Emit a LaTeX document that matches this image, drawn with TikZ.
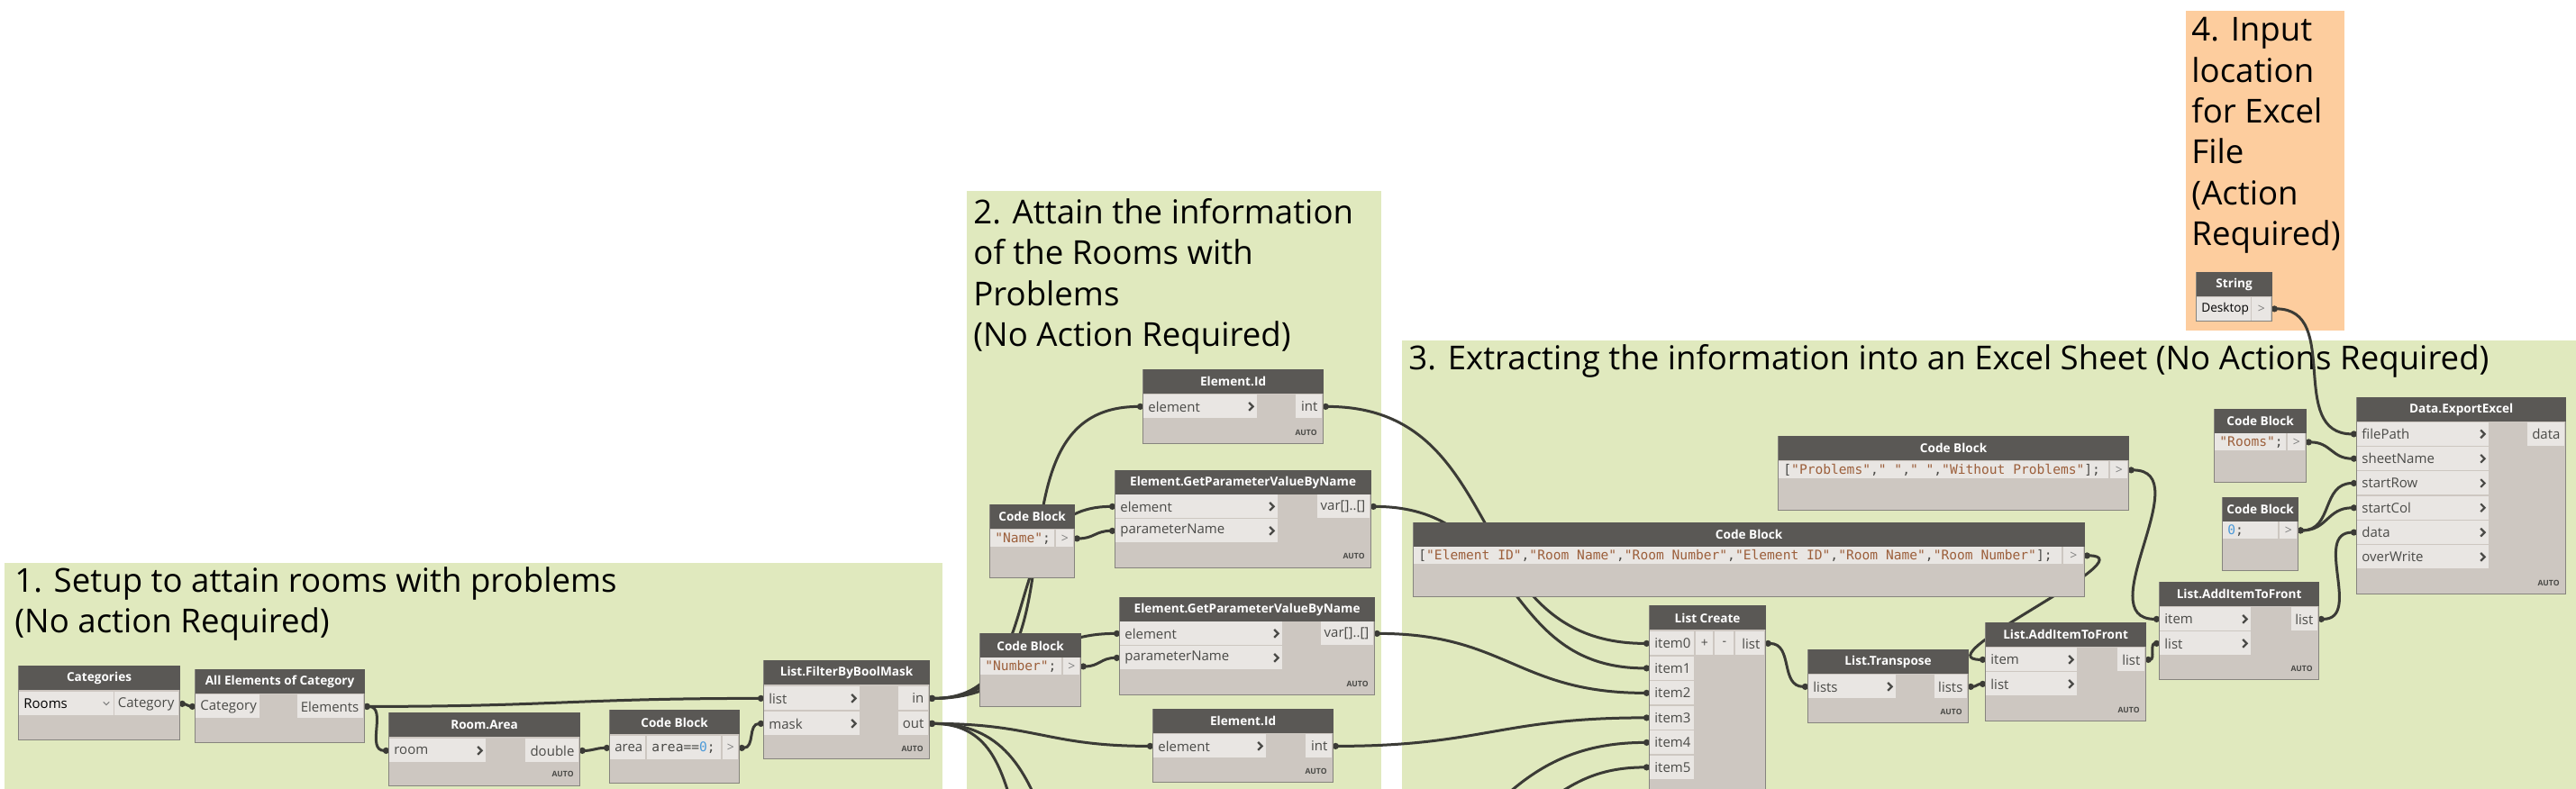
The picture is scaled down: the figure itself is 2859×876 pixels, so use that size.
\documentclass[tikz,border=0pt]{standalone}
\usepackage{fontspec}
\setmainfont{Open Sans}
\setmonofont{DejaVu Sans Mono}
\usepackage{tikz}
\usetikzlibrary{arrows.meta,positioning,calc}
\definecolor{grpgreen}{HTML}{E0E9BE}
\definecolor{grporange}{HTML}{FDCD9E}
\definecolor{headc}{HTML}{5A5855}
\definecolor{bodyc}{HTML}{CDC7C1}
\definecolor{cellc}{HTML}{E9E6E3}
\definecolor{edgec}{HTML}{86847E}
\definecolor{wirec}{HTML}{3B3B36}
\definecolor{portc}{HTML}{4A4A47}
\definecolor{strc}{HTML}{9C5F3B}
\definecolor{numc}{HTML}{4C9AD8}
\pgfdeclarelayer{bg}
\pgfdeclarelayer{wires}
\pgfsetlayers{bg,wires,main}

\tikzset{
  dbody/.style={anchor=north west,rectangle,fill=bodyc,draw=edgec,line width=0.6pt,inner sep=0},
  dhead/.style={anchor=north,fill=headc,text=white,inner sep=0,minimum height=13.5pt,
    font=\bfseries\fontsize{6.8}{8}\selectfont},
  cellbox/.style={anchor=north west,fill=cellc,inner sep=0,minimum height=13pt,
    font=\fontsize{7}{9}\selectfont,text=portc},
  short/.style={minimum height=9.5pt},
  ptext/.style={inner xsep=2.5pt,inner ysep=0,font=\fontsize{7.5}{9}\selectfont,text=portc},
  chev/.style={draw=portc,line width=1.1pt},
  incell/.style={cellbox,path picture={\draw[chev] ([xshift=-4.6pt,yshift=2.2pt]path picture bounding box.east)
    -- ++(2.2pt,-2.2pt) -- ++(-2.2pt,-2.2pt);}},
  autotag/.style={anchor=east,inner sep=0,text=portc,font=\bfseries\fontsize{4.3}{5}\selectfont},
  gtitle/.style={anchor=north west,inner sep=0,align=left,font=\fontsize{18.3}{22.7}\selectfont},
  wire/.style={draw=wirec,line width=1.5pt,out=0,in=180,looseness=1.2,{Circle[length=3.5pt]}-{Circle[length=3.5pt]}}
}

% body and header: name, x, y, width, height, title
\newcommand{\dyn}[6]{%
  \node[dbody,minimum width=#4*0.5pt,minimum height=#5*0.5pt] (#1) at (#2,#3) {};
  \node[dhead,minimum width=#4*0.5pt] (#1-h) at (#1.north) {#6};}
% cells: [options] name, x, y, width, text
\newcommand{\pcell}[6][]{%
  \node[cellbox,minimum width=#5*0.5pt,#1] (#2) at (#3,#4) {};
  \node[ptext,anchor=west] (#2-t) at (#2.west) {#6};}
\newcommand{\inp}[6][]{%
  \node[incell,minimum width=#5*0.5pt,#1] (#2) at (#3,#4) {};
  \node[ptext,anchor=west] (#2-t) at (#2.west) {#6};}
\newcommand{\outp}[6][]{%
  \node[cellbox,minimum width=#5*0.5pt,#1] (#2) at (#3,#4) {};
  \node[ptext,anchor=east] (#2-t) at (#2.east) {#6};}
\newcommand{\gtcell}[5][]{%
  \node[cellbox,minimum width=#5*0.5pt,#1,text=gray] (#2) at (#3,#4) {>};}
\newcommand{\qs}[1]{\textcolor{strc}{"#1"}}
\newcommand{\cfont}{\ttfamily\fontsize{7.3}{9}\selectfont\color{portc}}

\begin{document}
\begin{tikzpicture}[x=0.5pt,y=-0.5pt]
\useasboundingbox (0,0) rectangle (2859,876);
\clip (0,0) rectangle (2859,876);

\begin{pgfonlayer}{bg}
  \fill[white] (0,0) rectangle (2859,876);
  \fill[grpgreen] (5,625) rectangle (1046,876);
  \fill[grpgreen] (1073,212) rectangle (1533,876);
  \fill[grpgreen] (1556,378) rectangle (2859,876);
  \fill[grporange] (2426,12) rectangle (2602,367);
  \node[gtitle] (t1) at (16,629) {1. Setup to attain rooms with problems\\(No action Required)};
  \node[gtitle] (t2) at (1080,220) {2. Attain the information\\of the Rooms with\\Problems\\(No Action Required)};
  \node[gtitle] (t3) at (1563,382) {3. Extracting the information into an Excel Sheet (No Actions Required)};
  \node[gtitle] (t4) at (2432,19) {4. Input\\location\\for Excel\\File\\(Action\\Required)};
\end{pgfonlayer}

% 1. rooms with problems
\dyn{cat}{20}{739}{179}{82}{Categories}
\pcell{cat-rooms}{21}{768}{105}{\color{black}Rooms}
\outp{cat-out}{127}{768}{71}{Category}
\draw[gray,line width=0.5pt] ($(cat-rooms.east)+(-6pt,1pt)$) -- ++(1.6pt,-1.6pt) -- ++(1.6pt,1.6pt);

\dyn{aec}{216}{743}{188}{81}{All Elements of Category}
\pcell{aec-in}{217}{771}{71}{Category}
\outp{aec-out}{330}{771}{73}{Elements}

\dyn{area}{431}{791}{212}{81}{Room.Area}
\inp{area-room}{432}{820}{107}{room}
\outp{area-out}{583}{820}{59}{double}
\node[autotag] (area-a) at (637,859) {AUTO};

\dyn{cbA}{676}{788}{144}{81}{Code Block}
\pcell{cbA-in}{677}{817}{39}{area}
\pcell{cbA-code}{718}{817}{82}{\cfont area==\textcolor{numc}{0};}
\gtcell{cbA-out}{802}{817}{17}

\dyn{fbm}{847}{733}{184}{109}{List.FilterByBoolMask}
\inp{fbm-list}{848}{762}{106}{list}
\inp{fbm-mask}{848}{790}{106}{mask}
\outp{fbm-in}{997}{762}{33}{in}
\outp{fbm-out}{997}{790}{33}{out}
\node[autotag] (fbm-a) at (1025,831) {AUTO};

% 2. room information
\dyn{eid1}{1268}{410}{200}{82}{Element.Id}
\inp{eid1-el}{1269}{438}{126}{element}
\outp{eid1-out}{1438}{438}{29}{int}
\node[autotag] (eid1-a) at (1462,480) {AUTO};

\dyn{gp1}{1237}{522}{284}{108}{Element.GetParameterValueByName}
\inp{gp1-el}{1238}{549}{180}{element}
\inp{gp1-pn}{1238}{576}{180}{parameterName}
\outp{gp1-out}{1462}{549}{58}{var[]..[]}
\node[autotag] (gp1-a) at (1515,617) {AUTO};

\dyn{cbN}{1098}{560}{94}{81}{Code Block}
\pcell[short]{cbN-code}{1099}{588}{71}{\cfont\qs{Name};}
\gtcell[short]{cbN-out}{1172}{588}{19}

\dyn{cbNo}{1087}{703}{112}{81}{Code Block}
\pcell[short]{cbNo-code}{1088}{730}{90}{\cfont\qs{Number};}
\gtcell[short]{cbNo-out}{1180}{730}{18}

\dyn{gp2}{1242}{663}{283}{108}{Element.GetParameterValueByName}
\inp{gp2-el}{1243}{690}{180}{element}
\inp{gp2-pn}{1243}{717}{180}{parameterName}
\outp{gp2-out}{1466}{690}{58}{var[]..[]}
\node[autotag] (gp2-a) at (1519,759) {AUTO};

\dyn{eid2}{1279}{787}{200}{81}{Element.Id}
\inp{eid2-el}{1280}{815}{125}{element}
\outp{eid2-out}{1449}{815}{29}{int}
\node[autotag] (eid2-a) at (1473,856) {AUTO};

% 3. excel sheet
\dyn{cbH}{1568}{580}{745}{82}{Code Block}
\pcell[short]{cbH-code}{1569}{607}{719}{\cfont[\qs{Element ID},\qs{Room Name},\qs{Room Number},\qs{Element ID},\qs{Room Name},\qs{Room Number}];}
\gtcell[short]{cbH-out}{2290}{607}{22}

\dyn{cbP}{1973}{484}{389}{82}{Code Block}
\pcell[short]{cbP-code}{1974}{512}{366}{\cfont[\qs{Problems},\qs{ },\qs{ },\qs{Without Problems}];}
\gtcell[short]{cbP-out}{2342}{512}{19}

\dyn{lc}{1830}{672}{129}{260}{List Create}
\foreach \i in {0,...,5}
  \pcell{lc-i\i}{1831}{701+27.5*\i}{49}{item\i};
\node[cellbox,minimum width=9.5pt] (lc-plus) at (1882,701) {+};
\node[cellbox,minimum width=10.5pt] (lc-minus) at (1903,701) {-};
\outp{lc-out}{1926}{701}{32}{list}

\dyn{tr}{2006}{721}{178}{81}{List.Transpose}
\inp{tr-in}{2007}{749}{97}{lists}
\outp{tr-out}{2147}{749}{36}{lists}
\node[autotag] (tr-a) at (2178,790) {AUTO};

\dyn{af1}{2203}{691}{178}{109}{List.AddItemToFront}
\inp{af1-item}{2204}{719}{101}{item}
\inp{af1-list}{2204}{746}{101}{list}
\outp{af1-out}{2350}{719}{30}{list}
\node[autotag] (af1-a) at (2375,788) {AUTO};

\dyn{af2}{2396}{646}{177}{108}{List.AddItemToFront}
\inp{af2-item}{2397}{674}{101}{item}
\inp{af2-list}{2397}{701}{101}{list}
\outp{af2-out}{2543}{674}{29}{list}
\node[autotag] (af2-a) at (2567,742) {AUTO};

\dyn{cbR}{2457}{454}{102}{81}{Code Block}
\pcell[short]{cbR-code}{2458}{481}{79}{\cfont\qs{Rooms};}
\gtcell[short]{cbR-out}{2539}{481}{19}

\dyn{cb0}{2466}{552}{84}{81}{Code Block}
\pcell[short]{cb0-code}{2467}{579}{61}{\cfont\textcolor{numc}{0};}
\gtcell[short]{cb0-out}{2530}{579}{19}

\dyn{xl}{2615}{441}{232}{218}{Data.ExportExcel}
\inp{xl-path}{2616}{468.5}{146}{filePath}
\inp{xl-sheet}{2616}{495.8}{146}{sheetName}
\inp{xl-row}{2616}{523.1}{146}{startRow}
\inp{xl-col}{2616}{550.4}{146}{startCol}
\inp{xl-data}{2616}{577.7}{146}{data}
\inp{xl-over}{2616}{605}{146}{overWrite}
\outp{xl-out}{2805}{468.5}{41}{data}
\node[autotag] (xl-a) at (2841,647) {AUTO};

% 4. excel location
\dyn{str}{2437}{302}{84}{54}{String}
\pcell{str-val}{2438}{329.5}{60}{\color{black}\fontsize{6.8}{8}\selectfont Desktop}
\gtcell{str-out}{2499}{329.5}{21}

% wires
\coordinate (off1) at (1220,1000);
\coordinate (off2) at (1300,1050);
\coordinate (off3) at (1450,1000);
\coordinate (off4) at (1600,930);
\begin{pgfonlayer}{wires}
\begin{scope}
  \clip (0,0) rectangle (2859,876);
  \draw[wire] (cat-out.east) to (aec-in.west);
  \draw[wire] (aec-out.east) to (fbm-list.west);
  \draw[wire] (aec-out.east) to (area-room.west);
  \draw[wire] (area-out.east) to (cbA-in.west);
  \draw[wire] (cbA-out.east) to (fbm-mask.west);
  \draw[wire] (fbm-in.east) to (eid1-el.west);
  \draw[wire] (fbm-in.east) to (gp1-el.west);
  \draw[wire] (fbm-in.east) to (gp2-el.west);
  \draw[wire] (fbm-out.east) to (eid2-el.west);
  \draw[wire] (fbm-out.east) to (off1);
  \draw[wire] (fbm-out.east) to (off2);
  \draw[wire] (cbN-out.east) to (gp1-pn.west);
  \draw[wire] (cbNo-out.east) to (gp2-pn.west);
  \draw[wire] (eid1-out.east) to (lc-i0.west);
  \draw[wire] (gp1-out.east) to (lc-i1.west);
  \draw[wire] (gp2-out.east) to (lc-i2.west);
  \draw[wire] (eid2-out.east) to (lc-i3.west);
  \draw[wire] (off3) to (lc-i4.west);
  \draw[wire] (off4) to (lc-i5.west);
  \draw[wire] (lc-out.east) to (tr-in.west);
  \draw[wire] (tr-out.east) to (af1-list.west);
  \draw[wire] (cbH-out.east) to (af1-item.west);
  \draw[wire] (af1-out.east) to (af2-list.west);
  \draw[wire] (cbP-out.east) to (af2-item.west);
  \draw[wire] (af2-out.east) to (xl-data.west);
  \draw[wire] (cbR-out.east) to (xl-sheet.west);
  \draw[wire] (cb0-out.east) to (xl-row.west);
  \draw[wire] (cb0-out.east) to (xl-col.west);
  \draw[wire] (str-out.east) to (xl-path.west);
\end{scope}
\end{pgfonlayer}
\end{tikzpicture}
\end{document}
